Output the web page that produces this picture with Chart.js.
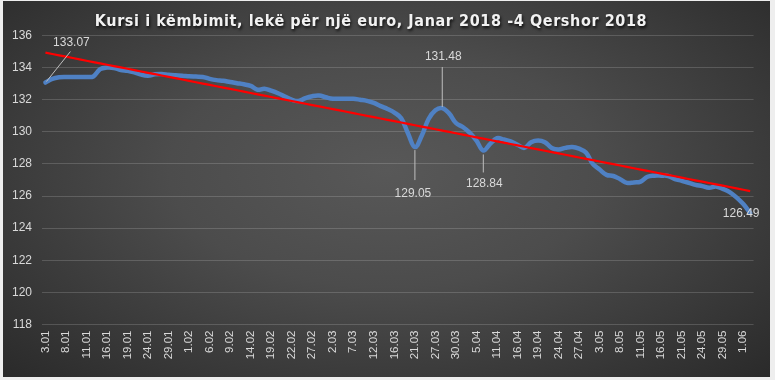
<!DOCTYPE html>
<html>
<head>
<meta charset="utf-8">
<script src="https://cdn.jsdelivr.net/npm/chart.js@4/dist/chart.umd.min.js"></script>
<style>
  html, body { margin: 0; padding: 0; background: #eeeeee; }
  #wrap {
    position: absolute; left: 3px; top: 1px; width: 767px; height: 376px;
    background: radial-gradient(ellipse at 50% 45%, #585858 0%, #4c4c4c 40%, #2a2a2a 100%);
  }
</style>
</head>
<body>
<div id="wrap"><canvas id="chart" width="767" height="376"></canvas></div>
<script>
const title = 'Kursi i këmbimit, lekë për një euro, Janar 2018 -4 Qershor 2018';

// working days, Jan 3 - Jun 4 2018
const dates = [
    '3.01','4.01','5.01','8.01','9.01','10.01','11.01','12.01','15.01','16.01','17.01','18.01','19.01',
    '22.01','23.01','24.01','25.01','26.01','29.01','30.01','31.01',
    '1.02','2.02','5.02','6.02','7.02','8.02','9.02','12.02','13.02','14.02','15.02','16.02','19.02',
    '20.02','21.02','22.02','23.02','26.02','27.02','28.02',
    '1.03','2.03','5.03','6.03','7.03','8.03','9.03','12.03','13.03','15.03','16.03','19.03','20.03',
    '21.03','23.03','26.03','27.03','28.03','29.03','30.03',
    '3.04','4.04','5.04','6.04','10.04','11.04','12.04','13.04','16.04','17.04','18.04','19.04','20.04',
    '23.04','24.04','25.04','26.04','27.04','30.04',
    '2.05','3.05','4.05','7.05','8.05','9.05','10.05','11.05','14.05','15.05','16.05','17.05','18.05',
    '21.05','22.05','23.05','24.05','25.05','28.05','29.05','30.05','31.05',
    '1.06','4.06'
];

const rates = [
    133.07, 133.30, 133.40, 133.42, 133.42, 133.42, 133.42, 133.45, 133.90, 134.00,
    133.98, 133.85, 133.80, 133.70, 133.56, 133.50, 133.58, 133.60, 133.55, 133.52,
    133.50, 133.46, 133.44, 133.42, 133.30, 133.22, 133.18, 133.10, 133.03, 132.96,
    132.86, 132.62, 132.69, 132.56, 132.40, 132.20, 132.00, 131.92, 132.10, 132.22,
    132.26, 132.15, 132.06, 132.06, 132.06, 132.06, 132.00, 131.93, 131.80, 131.60,
    131.42, 131.20, 130.85, 129.90, 129.05, 129.75, 130.80, 131.35, 131.48, 131.15,
    130.55, 130.30, 129.95, 129.45, 128.84, 129.25, 129.60, 129.52, 129.40, 129.20,
    129.00, 129.35, 129.46, 129.35, 129.00, 128.90, 129.00, 129.05, 128.95, 128.72,
    128.00, 127.65, 127.32, 127.25, 127.05, 126.82, 126.85, 126.90, 127.20, 127.27,
    127.27, 127.25, 127.06, 126.95, 126.83, 126.70, 126.62, 126.52, 126.60, 126.45,
    126.25, 125.92, 125.50, 124.95
];

const yTicks = [118, 120, 122, 124, 126, 128, 130, 132, 134, 136];

// data labels: point index and shown text
const labelIdx = [0, 54, 58, 64, 103];
const labelText = ['133.07', '129.05', '131.48', '128.84', '126.49'];

// linear trendline (least squares)
function trend(vals) {
    const n = vals.length;
    let sx = 0, sy = 0, sxy = 0, sxx = 0;
    vals.forEach((v, i) => { sx += i; sy += v; sxy += i * v; sxx += i * i; });
    const b = (n * sxy - sx * sy) / (n * sxx - sx * sx);
    const a = (sy - b * sx) / n;
    return vals.map((v, i) => a + b * i);
}

const labelPlugin = {
    id: 'dataLabels',
    afterDatasetsDraw(chart) {
        const ctx = chart.ctx;
        const x = chart.scales.x, y = chart.scales.y;
        // offsets of each label from its point, plus leader line ends
        const place = [
            { dx: 26, dy: -40, lead: [[1, -1], [25, -31]] },
            { dx: -2, dy: 47, lead: [[0, 3], [0, 33]] },
            { dx: 1, dy: -51, lead: [[0, -41], [0, -1]] },
            { dx: 1, dy: 33, lead: [[0, 4], [0, 22]] },
            { dx: -9, dy: 1, lead: null }
        ];
        ctx.save();
        labelIdx.forEach((idx, k) => {
            const px = x.getPixelForValue(idx);
            const py = y.getPixelForValue(rates[idx]);
            const p = place[k];
            if (p.lead) {
                ctx.strokeStyle = '#bfbfbf';
                ctx.lineWidth = 1;
                ctx.beginPath();
                ctx.moveTo(px + p.lead[0][0], py + p.lead[0][1]);
                ctx.lineTo(px + p.lead[1][0], py + p.lead[1][1]);
                ctx.stroke();
            }
            ctx.fillStyle = '#d9d9d9';
            ctx.font = '12px "Liberation Sans", sans-serif';
            ctx.textAlign = 'center';
            ctx.textBaseline = 'middle';
            ctx.fillText(labelText[k], px + p.dx, py + p.dy);
        });
        ctx.restore();
    }
};

const titlePlugin = {
    id: 'shadowTitle',
    afterDraw(chart) {
        const ctx = chart.ctx;
        ctx.save();
        ctx.font = 'bold 16px "DejaVu Sans Condensed", "DejaVu Sans", sans-serif';
        ctx.letterSpacing = '0.6px';
        ctx.fillStyle = '#f2f2f2';
        ctx.textAlign = 'center';
        ctx.textBaseline = 'middle';
        ctx.shadowColor = 'rgba(0,0,0,0.8)';
        ctx.shadowOffsetX = 1;
        ctx.shadowOffsetY = 2;
        ctx.shadowBlur = 3;
        ctx.fillText(title, 368, 21);
        ctx.restore();
    }
};

new Chart(document.getElementById('chart'), {
    type: 'line',
    data: {
        labels: dates,
        datasets: [
            {
                data: trend(rates),
                borderColor: '#ff0000',
                borderWidth: 2.2,
                pointRadius: 0,
                tension: 0,
                order: 0
            },
            {
                data: rates,
                borderColor: '#4f81c4',
                borderWidth: 4.5,
                pointRadius: 0,
                tension: 0.4,
                borderCapStyle: 'round',
                borderJoinStyle: 'round',
                order: 1
            }
        ]
    },
    plugins: [labelPlugin, titlePlugin],
    options: {
        responsive: false,
        animation: false,
        events: [],
        layout: { padding: { top: 34.5, right: 10, left: 0, bottom: 0 } },
        plugins: {
            legend: { display: false },
            tooltip: { enabled: false },
            title: { display: false }
        },
        scales: {
            x: {
                offset: true,
                grid: { display: false, drawTicks: false },
                border: { display: false },
                afterFit: (s) => { s.height = 52.5; },
                ticks: {
                    autoSkip: false,
                    minRotation: 90,
                    maxRotation: 90,
                    padding: 6,
                    color: '#d9d9d9',
                    font: { family: '"Liberation Sans", sans-serif', size: 11.5 },
                    callback: (v, i) => (i % 3 === 0 ? dates[i] : '')
                }
            },
            y: {
                min: 118,
                max: 136,
                afterBuildTicks: (s) => { s.ticks = yTicks.map(v => ({ value: v })); },
                afterFit: (s) => { s.width = 39; },
                grid: { color: 'rgba(255,255,255,0.16)', drawTicks: false },
                border: { display: false },
                ticks: {
                    padding: 10,
                    color: '#d9d9d9',
                    font: { family: '"Liberation Sans", sans-serif', size: 12 }
                }
            }
        }
    }
});
</script>
</body>
</html>
